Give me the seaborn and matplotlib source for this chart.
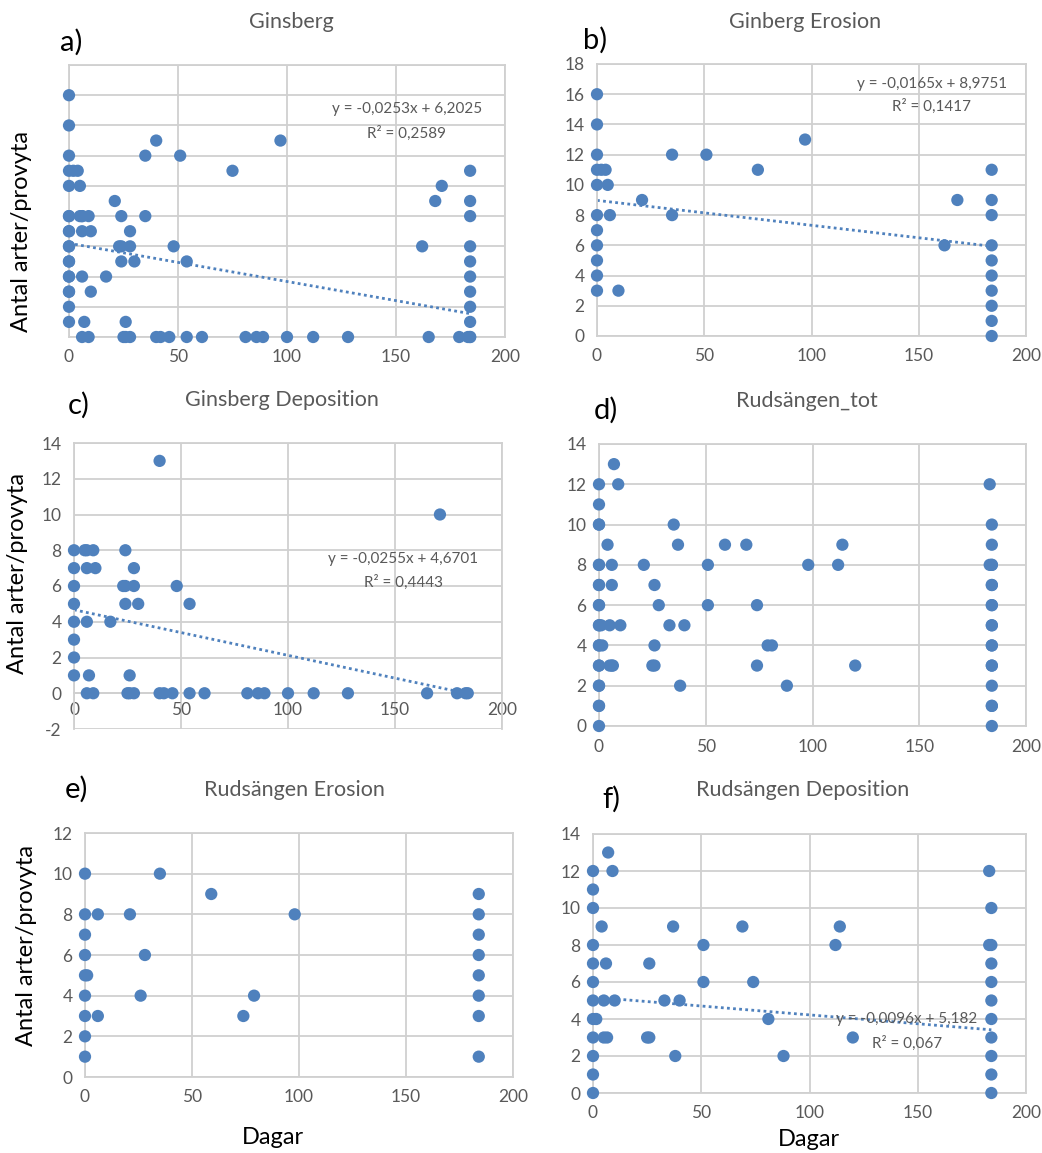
import numpy as np
import matplotlib
matplotlib.use("Agg")
import matplotlib.pyplot as plt
import seaborn as sns

# ---- data (days, species per plot) ----
gins_ero_x = [0, 0, 97, 0, 35, 51, 0, 2, 4, 75, 184, 0, 5, 21, 168, 184, 0, 6, 35, 184,
              0, 0, 162, 184, 0, 184, 0, 184, 0, 10, 184, 184, 184, 184]
gins_ero_y = [16, 14, 13, 12, 12, 12, 11, 11, 11, 11, 11, 10, 10, 9, 9, 9, 8, 8, 8, 8,
              7, 6, 6, 6, 5, 5, 4, 4, 3, 3, 3, 2, 1, 0]

gins_dep_x = [40, 171, 0, 5, 6, 9, 24, 0, 6, 10, 28, 0, 23, 24, 28, 48, 0, 24, 30, 54,
              0, 6, 17, 0, 0, 0, 7, 26,
              6, 9, 25, 26, 28, 40, 42, 46, 54, 61, 81, 86, 89, 100, 112, 128, 165, 179, 183, 184]
gins_dep_y = [13, 10, 8, 8, 8, 8, 8, 7, 7, 7, 7, 6, 6, 6, 6, 6, 5, 5, 5, 5,
              4, 4, 4, 3, 2, 1, 1, 1,
              0, 0, 0, 0, 0, 0, 0, 0, 0, 0, 0, 0, 0, 0, 0, 0, 0, 0, 0, 0]

ruds_ero_x = [0, 35, 59, 184, 0, 6, 21, 98, 184, 0, 184, 0, 28, 184, 0, 1, 184,
              0, 26, 79, 184, 0, 6, 74, 184, 0, 0, 184]
ruds_ero_y = [10, 10, 9, 9, 8, 8, 8, 8, 8, 7, 7, 6, 6, 6, 5, 5, 5,
              4, 4, 4, 4, 3, 3, 3, 3, 2, 1, 1]

ruds_dep_x = [7, 0, 9, 183, 0, 0, 184, 4, 37, 69, 114, 0, 51, 112, 183, 184, 0, 6, 26, 184,
              0, 51, 74, 184, 0, 5, 10, 33, 40, 184, 0, 1.5, 81, 184,
              0, 5, 6.5, 25, 26, 120, 184, 0, 38, 88, 184, 0, 184, 0, 184]
ruds_dep_y = [13, 12, 12, 12, 11, 10, 10, 9, 9, 9, 9, 8, 8, 8, 8, 8, 7, 7, 7, 7,
              6, 6, 6, 6, 5, 5, 5, 5, 5, 5, 4, 4, 4, 4,
              3, 3, 3, 3, 3, 3, 3, 2, 2, 2, 2, 1, 1, 0, 0]

# totals are erosion + deposition plots together
gins_tot_x = gins_ero_x + gins_dep_x
gins_tot_y = gins_ero_y + gins_dep_y
ruds_tot_x = ruds_ero_x + ruds_dep_x
ruds_tot_y = ruds_ero_y + ruds_dep_y

# Excel trend lines as printed on the chart (slope, intercept, label, R2 label)
trend_a = (-0.0253, 6.2025, "y = -0,0253x + 6,2025", "R² = 0,2589")
trend_b = (-0.0165, 8.9751, "y = -0,0165x + 8,9751", "R² = 0,1417")
trend_c = (-0.0255, 4.6701, "y = -0,0255x + 4,6701", "R² = 0,4443")
trend_f = (-0.0096, 5.182, "y = -0,0096x + 5,182", "R² = 0,067")

W, H = 1042, 1153
BLUE = "#4f81bd"
GRID = "#d0d0d0"
GREY = "#595959"

sns.set_theme(style="white")
plt.rcParams["font.family"] = ["Lato", "DejaVu Sans"]
plt.rcParams["axes.unicode_minus"] = False

fig = plt.figure(figsize=(W / 100, H / 100), dpi=100)


def px_rect(l, t, r, b):
    return [l / W, 1 - b / H, (r - l) / W, (b - t) / H]


def ftext(x, y, s, **kw):
    fig.text(x / W, 1 - y / H, s, **kw)


panels = [
    # box, x, y, ylim, show y labels, trend, eq pos, trend x end
    dict(box=(69, 65, 505, 337), x=gins_tot_x, y=gins_tot_y, ylim=(0, 18), ylab=False,
         trend=trend_a, eq=(155, 15.1, 13.5), xend=184),
    dict(box=(597, 64, 1026, 336), x=gins_ero_x, y=gins_ero_y, ylim=(0, 18), ylab=True,
         trend=trend_b, eq=(156, 16.7, 15.2), xend=184),
    dict(box=(74, 443, 502, 729), x=gins_dep_x, y=gins_dep_y, ylim=(-2, 14), ylab=True,
         trend=trend_c, eq=(154, 7.5, 6.2), xend=183),
    dict(box=(599, 444, 1026, 726), x=ruds_tot_x, y=ruds_tot_y, ylim=(0, 14), ylab=True,
         trend=None),
    dict(box=(85, 833, 513, 1077), x=ruds_ero_x, y=ruds_ero_y, ylim=(0, 12), ylab=True,
         trend=None),
    dict(box=(593, 834, 1026, 1093), x=ruds_dep_x, y=ruds_dep_y, ylim=(0, 14), ylab=True,
         trend=trend_f, eq=(145, 4.0, 2.7), xend=184),
]

for p in panels:
    ax = fig.add_axes(px_rect(*p["box"]))
    ax.set_xlim(0, 200)
    ax.set_ylim(*p["ylim"])
    ax.set_xticks(range(0, 201, 50))
    ax.set_yticks(range(p["ylim"][0], p["ylim"][1] + 1, 2))
    ax.grid(True, color=GRID, lw=1.3)
    ax.set_axisbelow(True)
    for sp in ax.spines.values():
        sp.set_color(GRID)
        sp.set_linewidth(1.3)
    ax.tick_params(length=0, labelsize=12.5, colors=GREY, pad=9)
    if not p["ylab"]:
        ax.tick_params(labelleft=False)
    if p["ylim"][0] < 0:
        # Excel puts the category axis at y = 0
        ax.spines["bottom"].set_position(("data", 0))
        ax.tick_params(axis="x", pad=6)

    if p["trend"] is not None:
        k, m, eq_txt, r2_txt = p["trend"]
        tx = np.array([0, p["xend"]])
        ax.plot(tx, k * tx + m, ls=(0, (1, 1.2)), lw=2, color=BLUE, zorder=2)
        ex, ey, ry = p["eq"]
        ax.text(ex, ey, eq_txt, ha="center", va="center", fontsize=11, color=GREY)
        ax.text(ex, ry, r2_txt, ha="center", va="center", fontsize=11, color=GREY)

    sns.scatterplot(x=p["x"], y=p["y"], ax=ax, color=BLUE, s=78, edgecolor="none",
                    zorder=3, clip_on=False)
    ax.set_xlabel("")
    ax.set_ylabel("")

# titles and panel letters
titles = [("Ginsberg", 291, 22), ("Ginberg Erosion", 805, 22),
          ("Ginsberg Deposition", 282, 400), ("Rudsängen_tot", 807, 401),
          ("Rudsängen Erosion", 294, 790), ("Rudsängen Deposition", 803, 790)]
for s, x, y in titles:
    ftext(x, y, s, ha="center", va="center", fontsize=15.5, color=GREY)

letters = [("a)", 60, 42), ("b)", 583, 40), ("c)", 68, 405),
           ("d)", 594, 410), ("e)", 65, 789), ("f)", 602, 799)]
for s, x, y in letters:
    ftext(x, y, s, ha="left", va="center", fontsize=21, color="black")

for x, y in [(22, 231), (18, 574), (27, 945)]:
    ftext(x, y, "Antal arter/provyta", ha="center", va="center", rotation=90,
          fontsize=17, color="black")

for x, y in [(273, 1137), (809, 1140)]:
    ftext(x, y, "Dagar", ha="center", va="center", fontsize=17, color="black")

fig.savefig("out.png", dpi=100, facecolor="white")
